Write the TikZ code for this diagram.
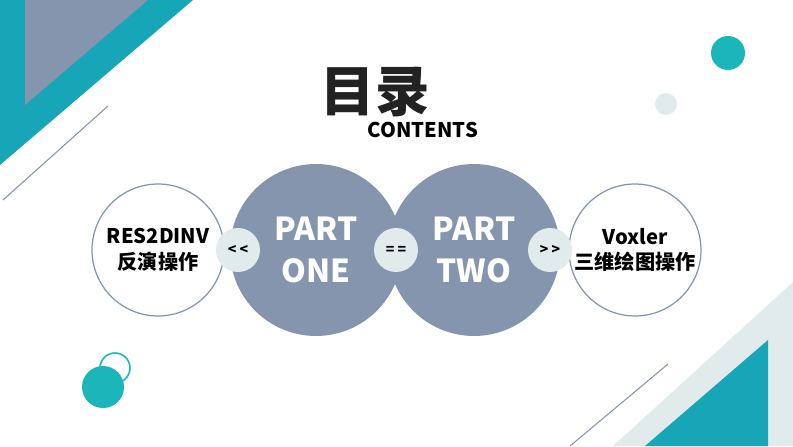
\documentclass[tikz,border=0pt]{standalone}
\usepackage{fontspec}
\setmainfont{Noto Sans CJK SC}
\definecolor{MuluTeal}{HTML}{17A6B7}
\definecolor{MuluDot}{HTML}{1CB5B9}
\definecolor{MuluSlate}{HTML}{8595AD}
\definecolor{MuluMist}{HTML}{E2EBEC}
\definecolor{MuluInk}{HTML}{222222}

\begin{document}
\begin{tikzpicture}[x=0.02cm, y=-0.02cm,
  partdisc/.style={circle, fill=MuluSlate, minimum size=3.44cm, inner sep=0pt, text=white, align=center, font=\fontsize{18}{24}\selectfont\bfseries},
  ringdisc/.style={circle, draw=MuluSlate, line width=0.7pt, fill=white, minimum size=2.64cm, inner sep=0pt, text=black, align=center, font=\fontsize{11.5}{14.5}\selectfont\bfseries},
  linkdisc/.style={circle, fill=MuluMist, minimum size=0.88cm, inner sep=0pt, text=black, font=\fontsize{8}{8}\selectfont\bfseries}]
\useasboundingbox (0,0) rectangle (793,446);

% Corner triangles
\fill[MuluTeal] (0,0) -- (193,0) -- (0,165) -- cycle;
\fill[MuluSlate] (25,0) -- (148,0) -- (25,105) -- cycle;
\fill[MuluMist] (793,282) -- (793,446) -- (613,446) -- cycle;
\fill[MuluTeal] (768,340) -- (768,446) -- (645,446) -- cycle;

% Thin slanted lines
\draw[MuluSlate, line width=0.6pt] (108,106) -- (3,200);
\draw[MuluSlate, line width=0.6pt] (668,364) -- (570,446);

% Dots
\draw[MuluDot, line width=0.9pt] (115,368) circle[radius=15];
\foreach \cx/\cy/\r/\col in {728/53/17/MuluDot, 666/104/11/MuluMist, 103/387/21/MuluDot}
{
  \fill[\col] (\cx,\cy) circle[radius=\r];
}

% Title
\node[text=MuluInk, font=\fontsize{31}{31}\selectfont\bfseries] (title) at (375,92) {目录};
\node[text=black, font=\fontsize{11.5}{11.5}\selectfont\bfseries] (sub) at (423,130) {CONTENTS};

% Circles
\node[partdisc] (one) at (316,250) {PART\\ONE};
\node[partdisc] (two) at (474,250) {PART\\TWO};
\node[ringdisc] (left) at (158,250) {RES2DINV\\反演操作};
\node[ringdisc] (right) at (635,250) {Voxler\\三维绘图操作};

% Link discs
\node[linkdisc] (lt) at (238,250) {< <};
\node[linkdisc] (eq) at (396,250) {= =};
\node[linkdisc] (gt) at (550,250) {> >};

\end{tikzpicture}
\end{document}
